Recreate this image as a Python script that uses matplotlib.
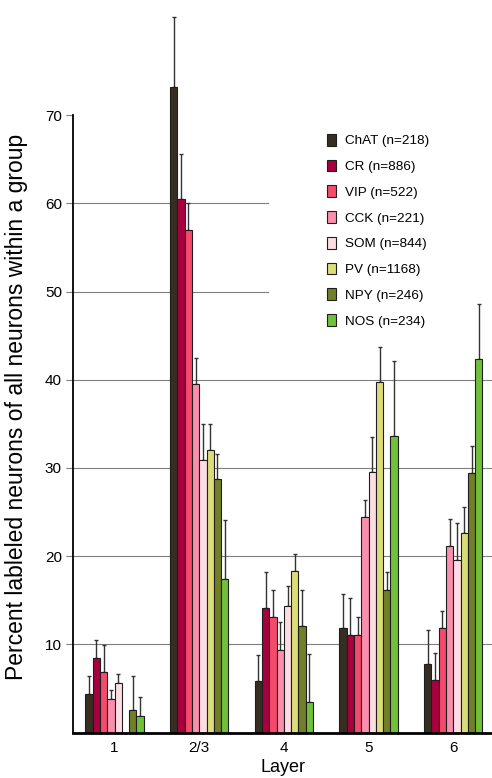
import numpy as np
import matplotlib
matplotlib.use("Agg")
import matplotlib.pyplot as plt

plt.rcParams['font.family'] = ['Liberation Sans', 'DejaVu Sans']

layers = ["1", "2/3", "4", "5", "6"]
groups = ["ChAT (n=218)", "CR (n=886)", "VIP (n=522)", "CCK (n=221)",
          "SOM (n=844)", "PV (n=1168)", "NPY (n=246)", "NOS (n=234)"]
colors = ["#372e22", "#a8003e", "#f64a6c", "#f98ead",
          "#fddde3", "#dbdd79", "#727f28", "#71c03a"]

# mean percent per layer (1, 2/3, 4, 5, 6)
chat = [4.4, 73.2, 5.8, 11.9, 7.8]
cr = [8.5, 60.5, 14.1, 11.0, 5.9]
vip = [6.9, 57.0, 13.1, 11.0, 11.8]
cck = [3.8, 39.5, 9.4, 24.4, 21.2]
som = [5.6, 30.9, 14.3, 29.5, 19.6]
pv = [0.0, 32.0, 18.3, 39.7, 22.6]
npy = [2.5, 28.7, 12.1, 16.2, 29.4]
nos = [1.9, 17.4, 3.5, 33.6, 42.4]

# upper error bar length
chat_err = [2.0, 7.9, 3.0, 3.8, 3.8]
cr_err = [2.0, 5.1, 4.1, 4.2, 3.1]
vip_err = [3.0, 3.0, 3.1, 2.1, 2.0]
cck_err = [1.0, 3.0, 3.1, 2.0, 3.0]
som_err = [1.0, 4.1, 2.3, 4.0, 4.1]
pv_err = [0.0, 3.0, 1.9, 4.0, 3.0]
npy_err = [3.9, 2.9, 4.1, 2.0, 3.1]
nos_err = [2.1, 6.7, 5.4, 8.5, 6.2]

values = [chat, cr, vip, cck, som, pv, npy, nos]
errors = [chat_err, cr_err, vip_err, cck_err, som_err, pv_err, npy_err, nos_err]

fig = plt.figure(figsize=(4.92, 7.78), dpi=100)
ax = fig.add_axes([73 / 492, 45.5 / 778, 1 - 73 / 492, 732.5 / 778])

x = np.arange(len(layers))
w = 0.0862
for j, (vals, errs, c, g) in enumerate(zip(values, errors, colors, groups)):
    pos = x + (j - 3.5) * w
    vals = np.array(vals)
    errs = np.array(errs)
    show = vals > 0
    ax.bar(pos[show], vals[show], width=w, color=c, edgecolor="#1e1e1e",
           linewidth=0.8, zorder=2, label=g)
    ax.errorbar(pos[show], vals[show], yerr=[np.zeros(show.sum()), errs[show]],
                fmt="none", ecolor="#333333", elinewidth=1, capsize=1.5,
                capthick=1, zorder=1)

for y in [10, 20, 30, 40]:
    ax.axhline(y, color="#7f7f7f", lw=0.8, zorder=0)
for y in [50, 60]:
    ax.axhline(y, xmin=0, xmax=0.465, color="#7f7f7f", lw=0.8, zorder=0)

ax.set_xlim(-0.49, 4.457)
ax.set_ylim(0, 83.05)
ax.set_yticks([10, 20, 30, 40, 50, 60, 70])
ax.set_xticks(x)
ax.set_xticklabels(layers)
ax.tick_params(axis="x", length=0, pad=6, labelsize=11)
ax.tick_params(axis="y", length=5, width=0.8, color="#7f7f7f", pad=3,
               labelsize=11)

for s in ["top", "right"]:
    ax.spines[s].set_visible(False)
ax.spines["left"].set_bounds(0, 70)
ax.spines["left"].set_linewidth(1.3)
ax.spines["bottom"].set_linewidth(2)

ax.set_xlabel("Layer", fontsize=13, labelpad=3)
ax.set_ylabel("Percent lableled neurons of all neurons within a group",
              fontsize=16.5)
ax.yaxis.set_label_coords(-0.107, 0.444)

ax.legend(loc="upper left", bbox_to_anchor=(327 / 492, 1 - 134 / 778),
          bbox_transform=fig.transFigure, frameon=False, fontsize=9.7,
          handlelength=0.67, handleheight=0.96, handletextpad=0.67,
          labelspacing=0.91, borderpad=0, borderaxespad=0)

fig.savefig("out.png", dpi=100)
